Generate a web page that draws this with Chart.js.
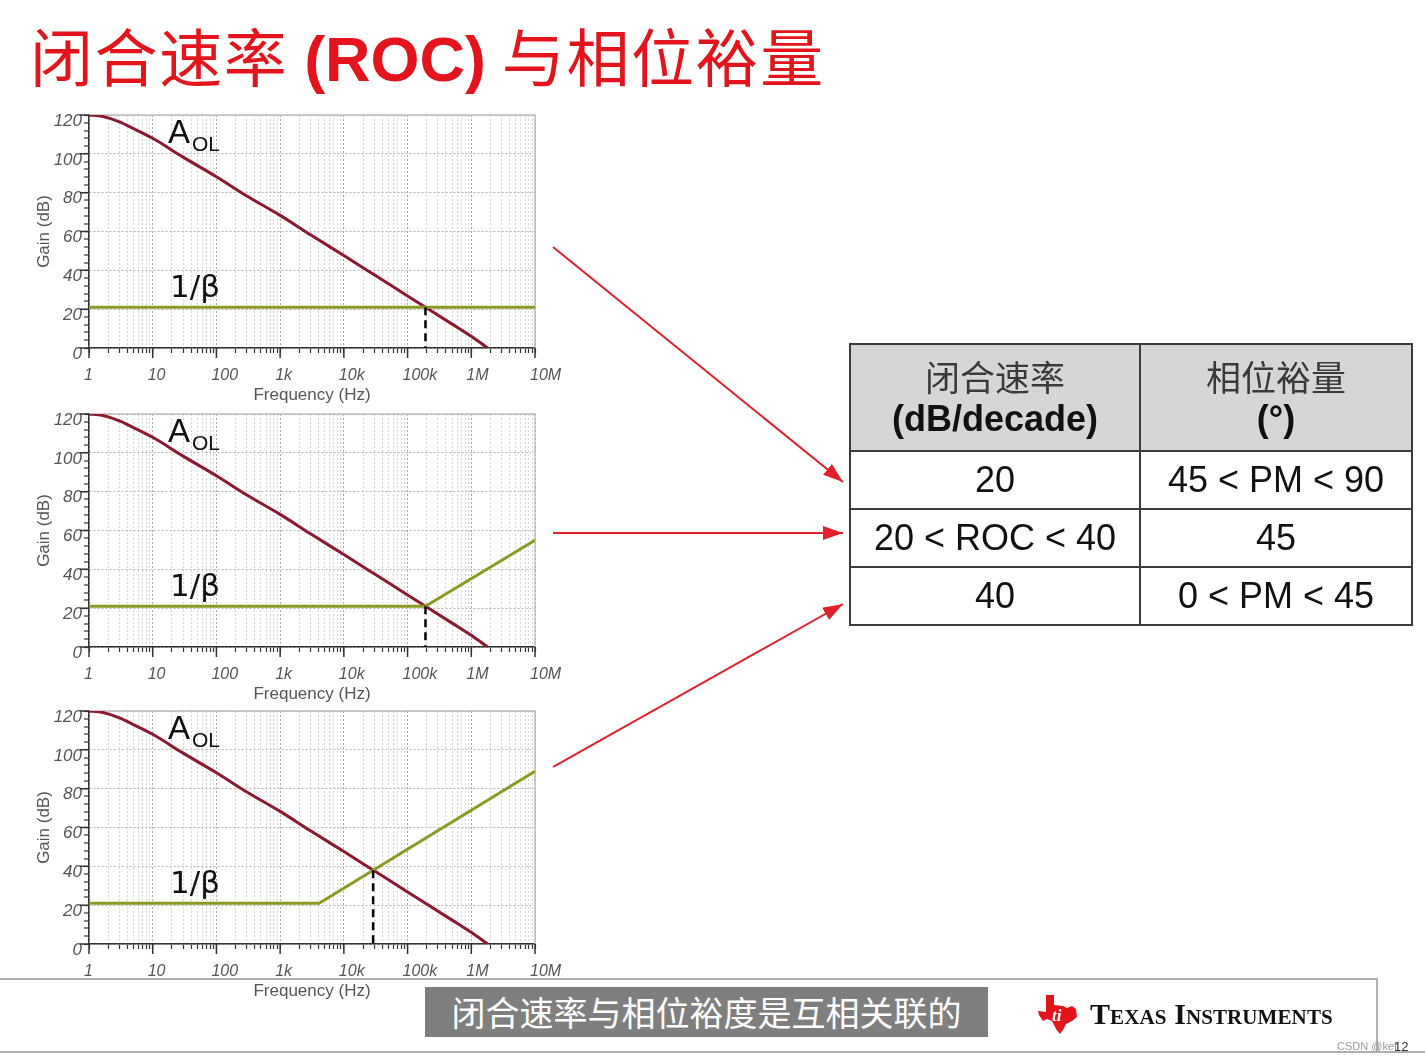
<!DOCTYPE html>
<html>
<head>
<meta charset="utf-8">
<script src="https://cdn.jsdelivr.net/npm/chart.js@4.4.0/dist/chart.umd.min.js"></script>
<style>
    body {
        margin: 0;
        width: 1425px;
        height: 1061px;
        position: relative;
        overflow: hidden;
        background: #fff;
        font-family: 'Liberation Sans', Arial, sans-serif;
    }
    .title {
        position: absolute;
        left: 30px;
        top: 12px;
        font-size: 63px;
        line-height: 84px;
        color: #e3141c;
        white-space: nowrap;
        letter-spacing: 1.6px;
        font-family: 'Noto Sans CJK SC', sans-serif;
    }
    .title b {
        font-family: 'Liberation Sans', Arial, sans-serif;
        font-weight: bold;
        letter-spacing: 0;
    }
    .plot {
        position: absolute;
        left: 30px;
        width: 560px;
        height: 306px;
    }
    .plot canvas { position: absolute; left: 0; top: 0; }
    .note {
        position: absolute;
        line-height: 1;
        color: #111;
        white-space: nowrap;
    }
    .note.a { left: 138px; top: 15px; font-size: 33px; }
    .note.ol { left: 162px; top: 33px; font-size: 21px; }
    .note.beta { left: 140px; top: 171px; font-size: 31px; font-family: 'DejaVu Sans', sans-serif; }
    #arrows { position: absolute; left: 0; top: 0; }
    table.roc {
        position: absolute;
        left: 849px;
        top: 343px;
        width: 562px;
        border-collapse: collapse;
        table-layout: fixed;
    }
    table.roc td {
        border: 2px solid #3c3c3c;
        text-align: center;
        padding: 0;
        font-size: 36px;
        color: #111;
        height: 56px;
    }
    table.roc tr.head td {
        background: #d6d6d6;
        height: 105px;
        line-height: 40px;
    }
    table.roc .cjk {
        font-family: 'Noto Sans CJK SC', sans-serif;
        font-size: 35px;
        color: #3a3a3a;
    }
    table.roc b { font-size: 36px; }
    .bottom-line {
        position: absolute;
        background: #b0b0b0;
    }
    .caption {
        position: absolute;
        left: 425px;
        top: 987px;
        width: 563px;
        height: 50px;
        background: #7f7f7f;
        color: #fff;
        font-family: 'Noto Sans CJK SC', sans-serif;
        font-size: 34px;
        line-height: 50px;
        text-align: center;
    }
    .ti {
        position: absolute;
        left: 1090px;
        top: 997px;
        font-family: 'Liberation Serif', serif;
        font-weight: bold;
        font-variant: small-caps;
        font-size: 30px;
        color: #111;
        white-space: nowrap;
        letter-spacing: 0.1px;
    }
    .mark {
        position: absolute;
        left: 1337px;
        top: 1040px;
        font-size: 11px;
        color: #999;
    }
    .page {
        position: absolute;
        left: 1394px;
        top: 1039px;
        font-size: 13px;
        color: #333;
    }
</style>
</head>
<body>

<div class="title">闭合速率 <b>(ROC)</b> 与相位裕量</div>

<div class="plot" style="top:100px">
    <canvas id="chart1" width="560" height="306"></canvas>
    <div class="note a">A</div><div class="note ol">OL</div>
    <div class="note beta">1/β</div>
</div>
<div class="plot" style="top:399px">
    <canvas id="chart2" width="560" height="306"></canvas>
    <div class="note a">A</div><div class="note ol">OL</div>
    <div class="note beta">1/β</div>
</div>
<div class="plot" style="top:696px">
    <canvas id="chart3" width="560" height="306"></canvas>
    <div class="note a">A</div><div class="note ol">OL</div>
    <div class="note beta">1/β</div>
</div>

<svg id="arrows" width="1425" height="1061">
    <defs>
        <marker id="head" markerWidth="20" markerHeight="14" refX="20" refY="7" orient="auto"
                markerUnits="userSpaceOnUse" viewBox="0 0 20 14">
            <path d="M0,0 L20,7 L0,14 z" fill="#e0202a"></path>
        </marker>
    </defs>
    <g stroke="#e0202a" stroke-width="2" fill="none">
        <line x1="553" y1="247" x2="843" y2="482" marker-end="url(#head)"></line>
        <line x1="553" y1="533" x2="843" y2="533" marker-end="url(#head)"></line>
        <line x1="553" y1="767" x2="843" y2="604" marker-end="url(#head)"></line>
    </g>
</svg>

<table class="roc">
    <colgroup><col style="width:290px"><col style="width:272px"></colgroup>
    <tr class="head">
        <td><span class="cjk">闭合速率</span><br><b>(dB/decade)</b></td>
        <td><span class="cjk">相位裕量</span><br><b>(°)</b></td>
    </tr>
    <tr><td>20</td><td>45 &lt; PM &lt; 90</td></tr>
    <tr><td>20 &lt; ROC &lt; 40</td><td>45</td></tr>
    <tr><td>40</td><td>0 &lt; PM &lt; 45</td></tr>
</table>

<div class="bottom-line" style="left:0;top:978px;width:1378px;height:2px"></div>
<div class="bottom-line" style="left:1376px;top:978px;width:2px;height:75px"></div>
<div class="bottom-line" style="left:0;top:1051px;width:1425px;height:2px"></div>

<div class="caption">闭合速率与相位裕度是互相关联的</div>

<svg style="position:absolute;left:1036px;top:993px" width="44" height="42" viewBox="0 0 44 42">
    <path d="M10,2 L18,2 L18,12 L27,13 L31,15 L36,13 L40,16 L41,24 L36,28 L30,31 L27,37 L24,41 L20,36 L16,28 L11,26 L7,28 L3,22 L2,18 L10,19 z" fill="#e3141c"></path>
    <text x="16" y="28" font-family="Liberation Serif" font-style="italic" font-weight="bold" font-size="17" fill="#fff">ti</text>
</svg>
<div class="ti">Texas Instruments</div>

<div class="mark">CSDN @kef</div>
<div class="page">12</div>

<script>
// x axis: one label per decade
const freqDecades = [1, 10, 100, 1000, 10000, 100000, 1000000, 10000000];
const freqTickLabels = ['1', '10', '100', '1k', '10k', '100k', '1M', '10M'];
const minorSteps = [2, 3, 4, 5, 6, 7, 8, 9];

// y axis
const gainTicks = [0, 20, 40, 60, 80, 100, 120];

// open loop gain (same curve in all three)
const aolFreq = [1, 1.6, 3, 5, 10, 30, 100, 300, 1000, 3000, 10000, 30000, 100000, 191000, 500000, 1000000, 1800000];
const aolGain = [120, 119.3, 116.5, 113, 108, 98.3, 88.2, 78.3, 68.3, 58.3, 47.6, 37.7, 26.8, 21, 12.3, 6, 0];

// 1/beta for each plot
const beta1Freq = [1, 10000000];
const beta1Gain = [21, 21];
const beta2Freq = [1, 191000, 10000000];
const beta2Gain = [21, 21, 55];
const beta3Freq = [1, 4100, 10000000];
const beta3Gain = [21, 21, 89];

// where the two curves meet (dashed drop line)
const crossFreq = [191000, 191000, 28800];
const crossGain = [21, 21, 38];

const AOL_COLOR = '#8b1a2e';
const BETA_COLOR = '#8c9a24';

function toPoints(xs, ys) {
    return xs.map((x, i) => ({ x: x, y: ys[i] }));
}

function isDecade(v) {
    return freqDecades.indexOf(v) !== -1;
}

/**
 * Frame on top/right plus longer ticks at the labelled values
 */
const framePlugin = {
    id: 'frame',
    beforeDatasetsDraw(chart) {
        const { ctx, chartArea: a, scales } = chart;
        ctx.save();
        ctx.strokeStyle = '#bdbdbd';
        ctx.lineWidth = 1.5;
        ctx.beginPath();
        ctx.moveTo(a.left, a.top);
        ctx.lineTo(a.right, a.top);
        ctx.lineTo(a.right, a.bottom);
        ctx.stroke();

        ctx.strokeStyle = '#333';
        ctx.lineWidth = 1.5;
        ctx.beginPath();
        freqDecades.forEach(v => {
            const px = scales.x.getPixelForValue(v);
            ctx.moveTo(px, a.bottom);
            ctx.lineTo(px, a.bottom + 10);
        });
        gainTicks.forEach(v => {
            const py = scales.y.getPixelForValue(v);
            ctx.moveTo(a.left, py);
            ctx.lineTo(a.left - 9, py);
        });
        ctx.stroke();
        ctx.restore();
    }
};

function makeChart(id, betaFreq, betaGain, idx) {
    const tickFont = { family: "'Liberation Sans', Arial, sans-serif", size: 16, style: 'italic' };
    const titleFont = { family: "'Liberation Sans', Arial, sans-serif", size: 17 };
    return new Chart(document.getElementById(id), {
        type: 'line',
        data: {
            datasets: [
                {
                    data: toPoints([crossFreq[idx], crossFreq[idx]], [crossGain[idx], 0]),
                    borderColor: '#000',
                    borderWidth: 2.5,
                    borderDash: [8, 5],
                    pointRadius: 0
                },
                {
                    data: toPoints(betaFreq, betaGain),
                    borderColor: BETA_COLOR,
                    borderWidth: 3,
                    pointRadius: 0
                },
                {
                    data: toPoints(aolFreq, aolGain),
                    borderColor: AOL_COLOR,
                    borderWidth: 3,
                    pointRadius: 0,
                    cubicInterpolationMode: 'monotone'
                }
            ]
        },
        options: {
            responsive: false,
            animation: false,
            devicePixelRatio: 1,
            layout: { padding: { top: 15, right: 55, left: 0, bottom: 0 } },
            plugins: { legend: { display: false }, tooltip: { enabled: false } },
            scales: {
                x: {
                    type: 'logarithmic',
                    min: 1,
                    max: 10000000,
                    afterBuildTicks: function(axis) {
                        const ticks = [];
                        freqDecades.forEach((d, i) => {
                            ticks.push({ value: d, major: true });
                            if (i < freqDecades.length - 1) {
                                minorSteps.forEach(m => ticks.push({ value: d * m }));
                            }
                        });
                        axis.ticks = ticks;
                    },
                    afterFit: function(axis) { axis.height = 58; },
                    ticks: {
                        autoSkip: false,
                        maxRotation: 0,
                        padding: 13,
                        align: 'start',
                        labelOffset: -5,
                        color: '#555',
                        font: tickFont,
                        callback: function(value) {
                            const i = freqDecades.indexOf(value);
                            return i === -1 ? '' : freqTickLabels[i];
                        }
                    },
                    grid: {
                        color: ctx => (ctx.tick && isDecade(ctx.tick.value)) ? '#adadad' : '#d6d6d6',
                        lineWidth: 1,
                        tickColor: '#333',
                        tickWidth: 1.2,
                        tickLength: 5
                    },
                    border: { display: true, color: '#333', width: 1.5, dash: [2, 2] },
                    title: {
                        display: true,
                        text: 'Frequency (Hz)',
                        color: '#555',
                        font: titleFont,
                        padding: { top: 0, bottom: 0 }
                    }
                },
                y: {
                    type: 'linear',
                    min: 0,
                    max: 120,
                    afterFit: function(axis) { axis.width = 59; },
                    ticks: {
                        stepSize: 4,
                        autoSkip: false,
                        padding: 2,
                        labelOffset: 6,
                        color: '#555',
                        font: { family: "'Liberation Sans', Arial, sans-serif", size: 17, style: 'italic' },
                        callback: function(value) {
                            return gainTicks.indexOf(value) === -1 ? '' : String(value);
                        }
                    },
                    grid: {
                        color: '#b3b3b3',
                        lineWidth: ctx => (ctx.tick && gainTicks.indexOf(ctx.tick.value) !== -1) ? 1 : 0,
                        tickColor: '#333',
                        tickWidth: 1.2,
                        tickLength: 5
                    },
                    border: { display: true, color: '#333', width: 1.5, dash: [2, 2] },
                    title: {
                        display: true,
                        text: 'Gain (dB)',
                        color: '#555',
                        font: titleFont,
                        padding: { top: 4, bottom: 0 }
                    }
                }
            }
        },
        plugins: [framePlugin]
    });
}

document.addEventListener('DOMContentLoaded', function() {
    makeChart('chart1', beta1Freq, beta1Gain, 0);
    makeChart('chart2', beta2Freq, beta2Gain, 1);
    makeChart('chart3', beta3Freq, beta3Gain, 2);
});
</script>
</body>
</html>
